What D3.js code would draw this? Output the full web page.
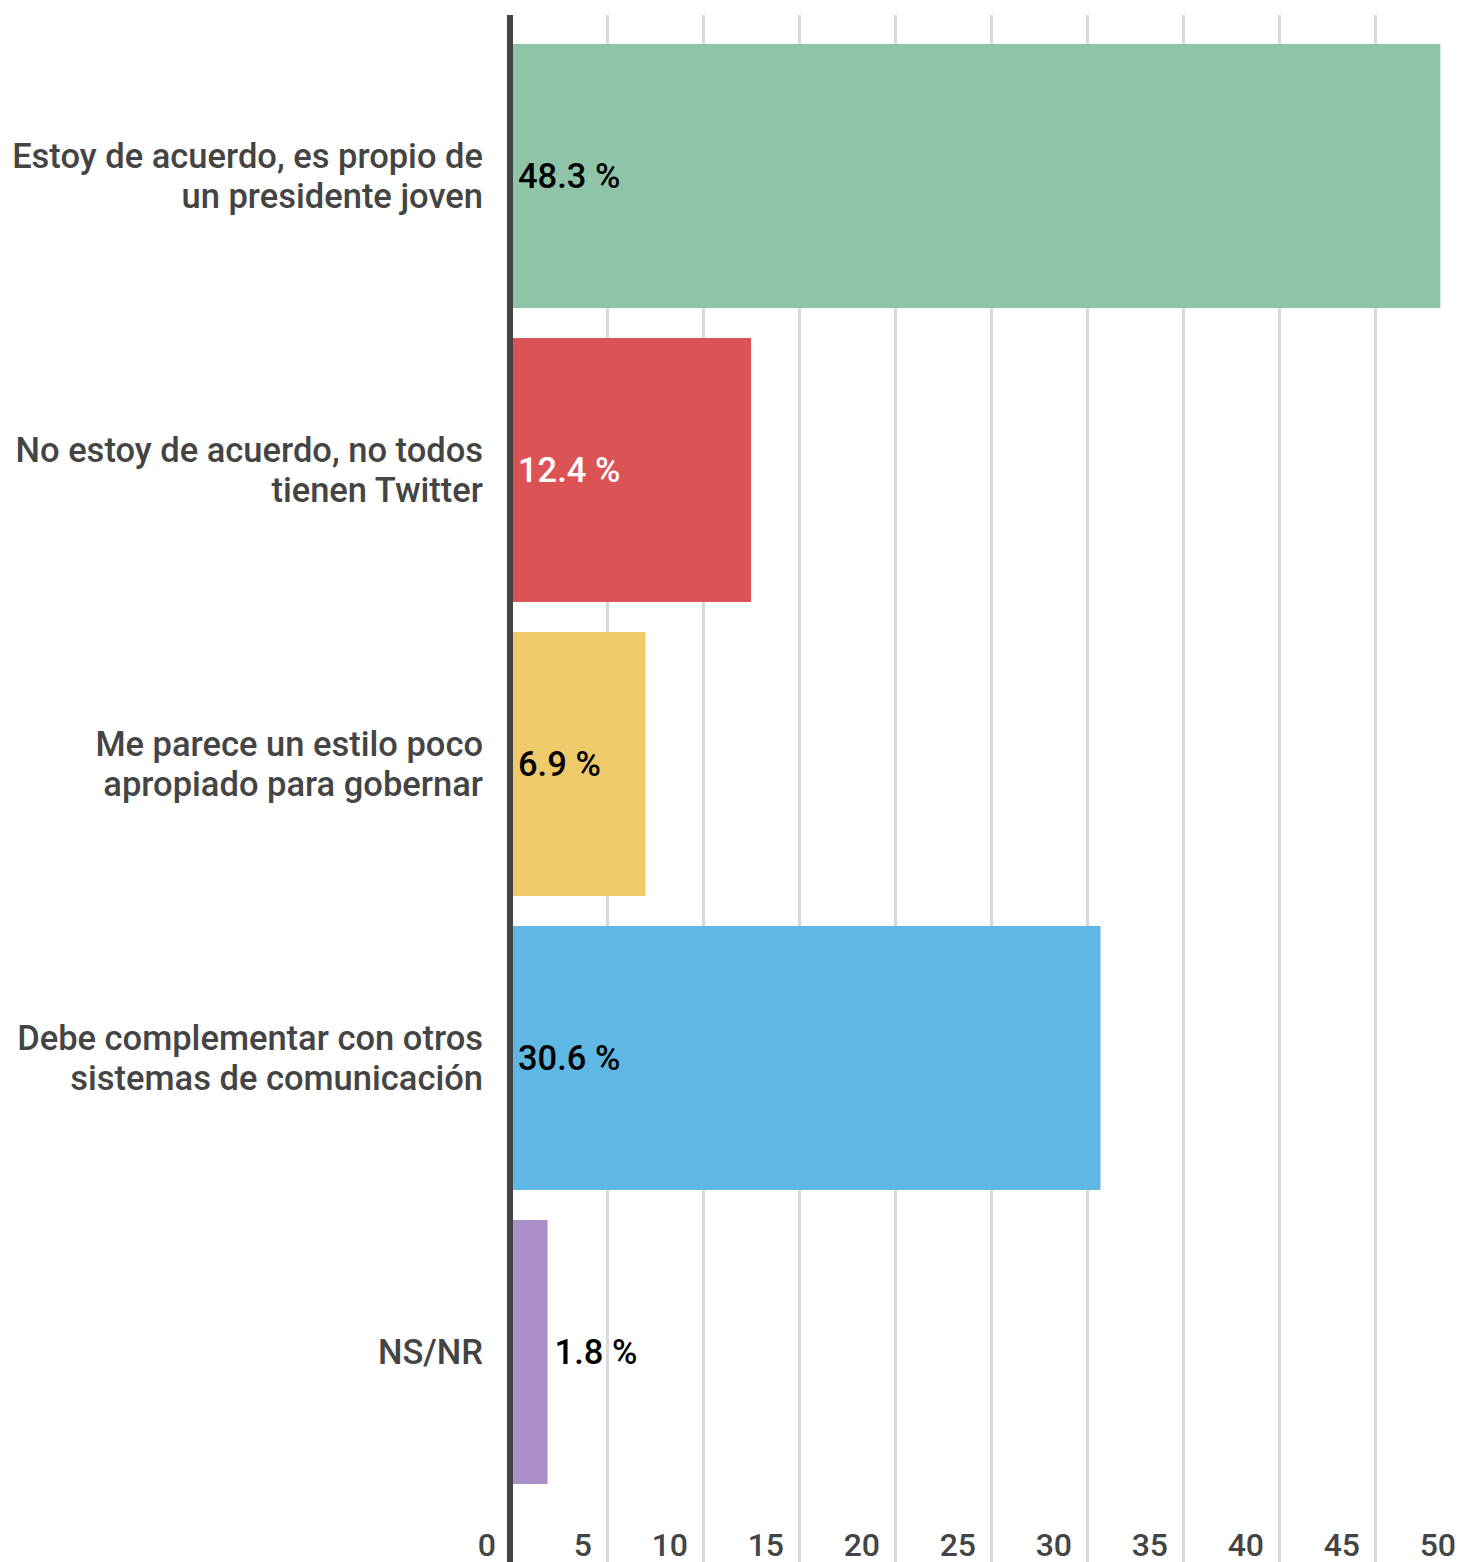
<!DOCTYPE html>
<html><head><meta charset="utf-8">
<script src="https://cdn.jsdelivr.net/npm/d3@7"></script>
<style>body{margin:0;background:#fff}svg{display:block}text{font-family:Roboto,sans-serif;font-weight:500}</style>
</head><body>
<svg id="c" width="1463" height="1562"></svg>
<script>
const categories = ["Estoy de acuerdo, es propio de\nun presidente joven","No estoy de acuerdo, no todos\ntienen Twitter","Me parece un estilo poco\napropiado para gobernar","Debe complementar con otros\nsistemas de comunicación","NS/NR"];
const values = [48.3, 12.4, 6.9, 30.6, 1.8];
const valueLabels = ["48.3 %","12.4 %","6.9 %","30.6 %","1.8 %"];
const colors = ["#8FC4A8","#DC5356","#EECA6A","#5FB7E3","#AB91C8"];
const labelColors = ["#000","#fff","#000","#000","#000"];
const ticks = [0,5,10,15,20,25,30,35,40,45,50];

const svg = d3.select("#c");
const x = d3.scaleLinear().domain([0,50]).range([511.5,1471.5]);
const y = d3.scaleBand().domain(categories).range([29,1499]).paddingInner(30/294).paddingOuter(15/294);

// gridlines
svg.append("g").selectAll("line").data(ticks.filter(t=>t>0)).join("line")
  .attr("x1",d=>x(d)).attr("x2",d=>x(d)).attr("y1",15).attr("y2",1562)
  .attr("stroke","#d9d9d9").attr("stroke-width",3);

// tick labels
svg.append("g").selectAll("text").data(ticks).join("text")
  .attr("x",d=>x(d)-15.5).attr("y",1556).attr("text-anchor","end")
  .attr("font-size",32).attr("fill","#444").text(d=>d);

// bars
const x0 = x(0)+1.5;
svg.append("g").selectAll("rect").data(values).join("rect")
  .attr("x",x0).attr("y",(d,i)=>y(categories[i]))
  .attr("width",d=>x(d)-x(0)).attr("height",y.bandwidth())
  .attr("fill",(d,i)=>colors[i]);

// axis line
svg.append("line").attr("x1",510).attr("x2",510).attr("y1",15).attr("y2",1562)
  .attr("stroke","#444").attr("stroke-width",6);

// value labels
svg.append("g").selectAll("text").data(values).join("text")
  .attr("x",(d,i)=>{const w=x(d)-x(0); return w>60? x0+5 : x0+w+7;})
  .attr("y",(d,i)=>y(categories[i])+y.bandwidth()/2)
  .attr("dy","0.35em").attr("font-size",34.5)
  .attr("fill",(d,i)=>labelColors[i]).text((d,i)=>valueLabels[i]);

// category labels
const cg = svg.append("g");
categories.forEach((c,i)=>{
  const lines = c.split("\n");
  const cy = y(c)+y.bandwidth()/2;
  const t = cg.append("text").attr("text-anchor","end").attr("font-size",34.5).attr("fill","#444");
  lines.forEach((l,j)=>{
    t.append("tspan").attr("x",483).attr("y",cy+(j-(lines.length-1)/2)*40).attr("dy","0.35em").text(l);
  });
});
</script>
</body></html>
